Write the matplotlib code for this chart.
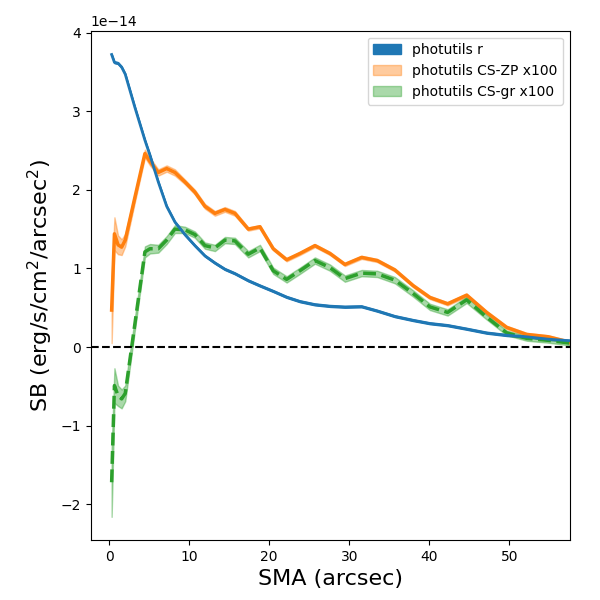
import numpy as np
import matplotlib
matplotlib.use('Agg')
import matplotlib.pyplot as plt

# semi-major axis (arcsec)
sma = [0.30, 0.65, 1.10, 1.55, 2.00, 3.20, 4.46, 5.09, 6.13, 7.18, 8.21, 9.46,
       10.71, 11.96, 13.21, 14.46, 15.71, 17.38, 18.84, 20.50, 22.18, 23.84,
       25.71, 27.59, 29.46, 31.55, 33.50, 35.71, 38.00, 40.09, 42.30, 44.68,
       47.18, 49.68, 52.18, 54.88, 57.60]

# surface brightness in units of 1e-14
sb_r = [3.72, 3.62, 3.61, 3.56, 3.47, 3.05, 2.63, 2.44, 2.10, 1.79, 1.59, 1.43,
        1.29, 1.16, 1.07, 0.99, 0.935, 0.845, 0.78, 0.71, 0.635, 0.58,
        0.54, 0.52, 0.51, 0.515, 0.46, 0.39, 0.34, 0.30, 0.275, 0.23,
        0.18, 0.15, 0.13, 0.10, 0.08]
err_r = [0.01] * len(sma)

sb_zp = [0.47, 1.44, 1.30, 1.27, 1.36, 1.90, 2.46, 2.36, 2.22, 2.27, 2.22, 2.10,
         1.97, 1.79, 1.70, 1.75, 1.70, 1.50, 1.53, 1.25, 1.11, 1.19,
         1.29, 1.19, 1.05, 1.14, 1.10, 0.98, 0.78, 0.63, 0.55, 0.66,
         0.44, 0.25, 0.16, 0.13, 0.06]
err_zp = [0.42, 0.21, 0.12, 0.10, 0.08, 0.06, 0.05, 0.05, 0.04, 0.04, 0.04, 0.03,
          0.03, 0.03, 0.03, 0.03, 0.03, 0.02, 0.02, 0.02, 0.02, 0.02,
          0.02, 0.02, 0.02, 0.02, 0.02, 0.02, 0.02, 0.02, 0.02, 0.02,
          0.02, 0.02, 0.02, 0.02, 0.02]

sb_gr = [-1.72, -0.49, -0.62, -0.66, -0.59, 0.29, 1.21, 1.25, 1.25, 1.36, 1.50, 1.49,
         1.43, 1.29, 1.26, 1.36, 1.35, 1.18, 1.26, 0.97, 0.86, 0.97,
         1.10, 1.01, 0.87, 0.94, 0.93, 0.85, 0.68, 0.51, 0.44, 0.60,
         0.38, 0.18, 0.11, 0.085, 0.05]
err_gr = [0.44, 0.22, 0.13, 0.12, 0.10, 0.08, 0.07, 0.06, 0.05, 0.05, 0.05, 0.04,
          0.04, 0.04, 0.04, 0.04, 0.04, 0.04, 0.04, 0.04, 0.04, 0.04,
          0.04, 0.04, 0.04, 0.04, 0.04, 0.04, 0.04, 0.04, 0.04, 0.04,
          0.03, 0.03, 0.03, 0.03, 0.03]

x = np.array(sma)
scale = 1e-14
r = np.array(sb_r) * scale
er = np.array(err_r) * scale
zp = np.array(sb_zp) * scale
ezp = np.array(err_zp) * scale
gr = np.array(sb_gr) * scale
egr = np.array(err_gr) * scale

fig, ax = plt.subplots(figsize=(6, 6), dpi=100)
plt.subplots_adjust(left=0.151, right=0.95, bottom=0.1, top=0.949)

ax.fill_between(x, r - er, r + er, color='C0', alpha=1, label='photutils r')
ax.plot(x, r, color='C0', lw=2, zorder=4)

ax.fill_between(x, zp - ezp, zp + ezp, color='C1', alpha=0.4, label='photutils CS-ZP x100')
ax.plot(x, zp, color='C1', lw=2.5)

ax.fill_between(x, gr - egr, gr + egr, color='C2', alpha=0.4, label='photutils CS-gr x100')
ax.plot(x, gr, color='C2', lw=2.5, ls='--')

ax.axhline(0, color='k', ls='--', lw=1.5)

ax.set_xlim(-2.33, 57.6)
ax.set_xlabel('SMA (arcsec)', fontsize=16)
ax.set_ylabel('SB (erg/s/cm$^2$/arcsec$^2$)', fontsize=16)
ax.legend(loc='upper right')

plt.savefig('out.png', dpi=100)
